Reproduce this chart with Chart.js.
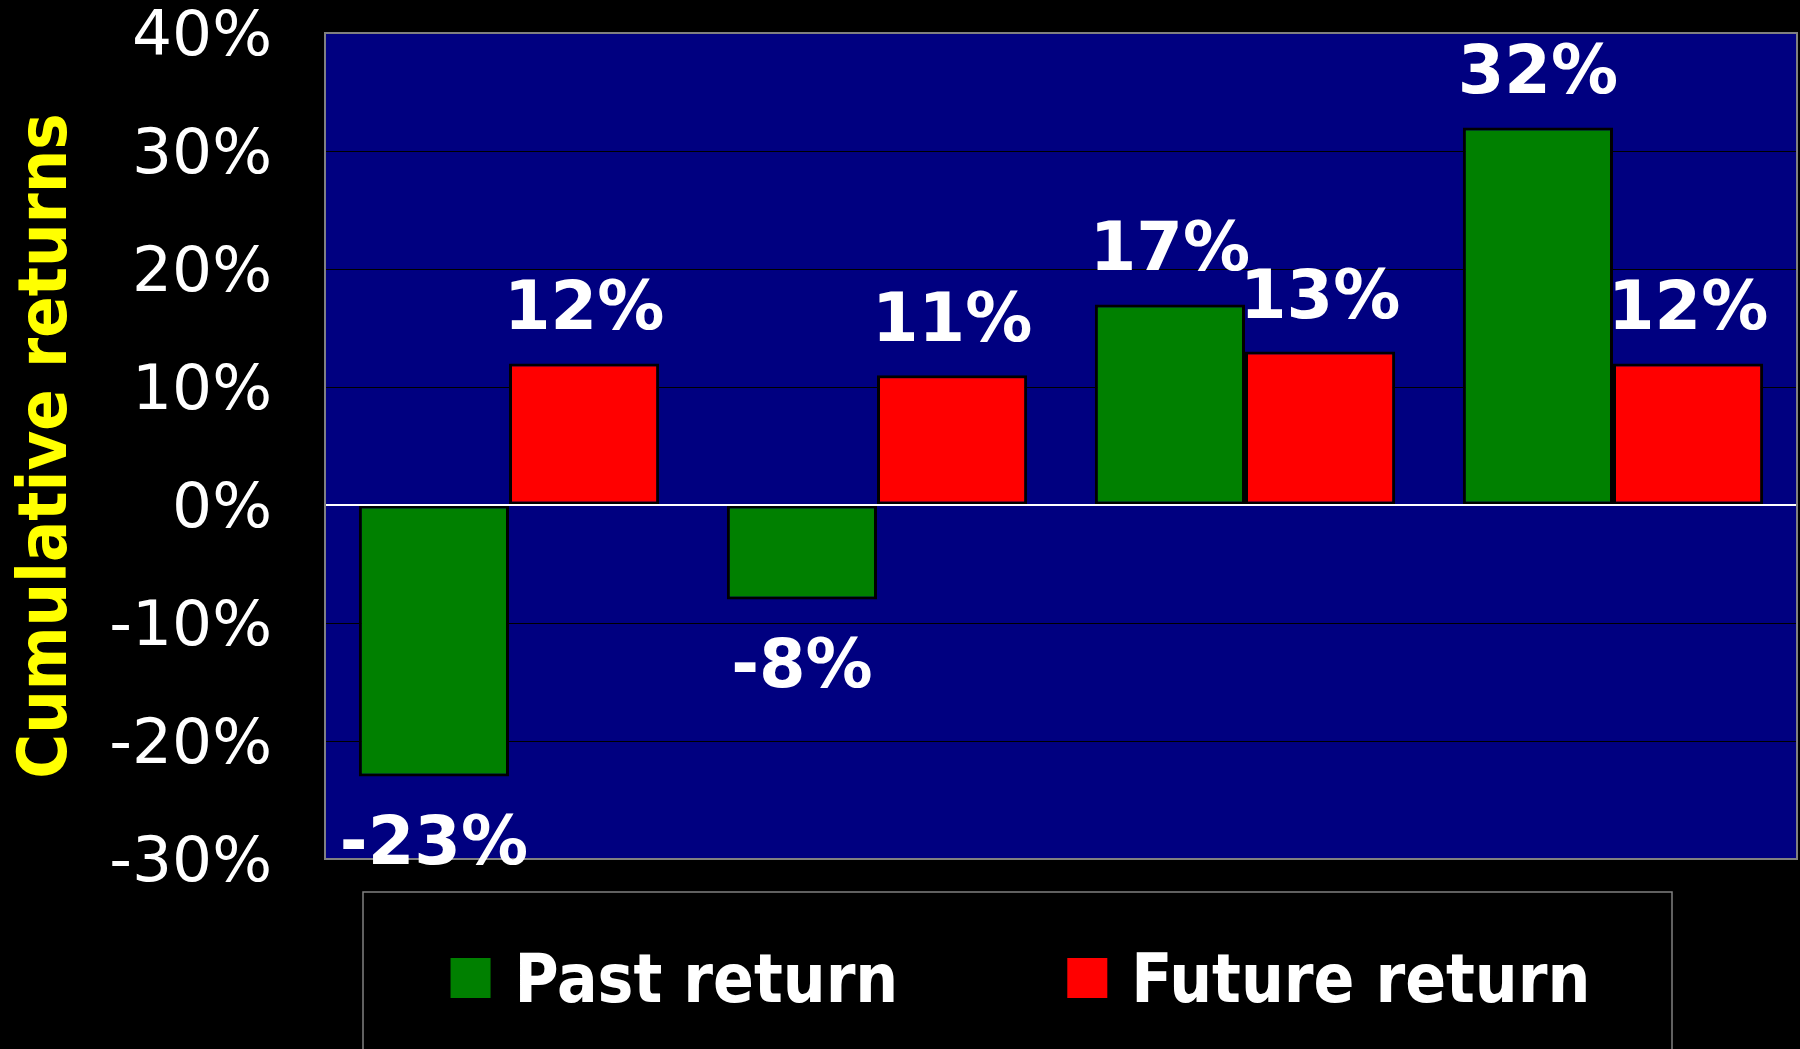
<!DOCTYPE html>
<html>
<head>
<meta charset="utf-8">
<title>Cumulative returns</title>
<script src="https://cdn.jsdelivr.net/npm/chart.js@4.4.1/dist/chart.umd.min.js"></script>
<style>
    html, body { margin: 0; padding: 0; background: #000; }
    #wrap { width: 1800px; height: 1049px; }
</style>
</head>
<body>
<div id="wrap"><canvas id="returnsChart"></canvas></div>
<script>
// Chart data
const categories = ['1', '2', '3', '4'];
const pastReturn = [-23, -8, 17, 32];
const futureReturn = [12, 11, 13, 12];
const seriesNames = ['Past return', 'Future return'];
const yTicks = [-30, -20, -10, 0, 10, 20, 30, 40];

const condensed = "'DejaVu Sans Condensed', 'DejaVu Sans', sans-serif";

// navy plot background, white zero line, grey frame and value labels
const plotFrame = {
    id: 'plotFrame',
    beforeDraw(chart) {
        const { ctx, chartArea: a } = chart;
        ctx.save();
        ctx.fillStyle = '#000';
        ctx.fillRect(0, 0, chart.width, chart.height);
        ctx.fillStyle = '#000080';
        ctx.fillRect(a.left, a.top, a.right - a.left, a.bottom - a.top);
        ctx.restore();
    },
    afterDatasetsDraw(chart) {
        const { ctx, chartArea: a, scales } = chart;
        const y0 = scales.y.getPixelForValue(0);
        ctx.save();
        ctx.strokeStyle = '#fff';
        ctx.lineWidth = 2;
        ctx.beginPath();
        ctx.moveTo(a.left, y0);
        ctx.lineTo(a.right, y0);
        ctx.stroke();

        ctx.strokeStyle = '#808080';
        ctx.lineWidth = 2;
        ctx.strokeRect(a.left, a.top, a.right - a.left, a.bottom - a.top);

        ctx.fillStyle = '#fff';
        ctx.font = "bold 67px 'DejaVu Sans', sans-serif";
        ctx.textAlign = 'center';
        ctx.textBaseline = 'alphabetic';
        chart.data.datasets.forEach((ds, i) => {
            chart.getDatasetMeta(i).data.forEach((bar, j) => {
                const v = ds.data[j];
                const y = v >= 0 ? bar.y - 34 : bar.y + 88;
                ctx.fillText(v + '%', bar.x, y);
            });
        });
        ctx.restore();
    }
};

// boxed legend under the plot
const legendBox = {
    id: 'legendBox',
    afterDraw(chart) {
        const { ctx, chartArea: a } = chart;
        const top = a.bottom + 33;
        const left = a.left + 38;
        const right = a.right - 125;
        ctx.save();
        ctx.strokeStyle = '#808080';
        ctx.lineWidth = 1.5;
        ctx.strokeRect(left, top, right - left, chart.height - top + 10);

        ctx.font = 'bold 67px ' + condensed;
        ctx.textBaseline = 'alphabetic';
        ctx.textAlign = 'left';
        const box = 40, gap = 24, spacing = 169;
        const items = chart.data.datasets.map(ds => ({
            label: ds.label,
            color: ds.backgroundColor,
            w: box + gap + ctx.measureText(ds.label).width
        }));
        const total = items.reduce((s, it) => s + it.w, 0) + spacing * (items.length - 1);
        let x = (left + right) / 2 + 3 - total / 2;
        items.forEach(it => {
            ctx.fillStyle = it.color;
            ctx.fillRect(x, top + 66, box, box);
            ctx.fillStyle = '#fff';
            ctx.fillText(it.label, x + box + gap, top + 110);
            x += it.w + spacing;
        });
        ctx.restore();
    }
};

const ctx = document.getElementById('returnsChart');
new Chart(ctx, {
    type: 'bar',
    data: {
        labels: categories,
        datasets: [{
            label: seriesNames[0],
            data: pastReturn,
            backgroundColor: '#008000',
            borderColor: '#000',
            borderWidth: 3,
            borderSkipped: false
        }, {
            label: seriesNames[1],
            data: futureReturn,
            backgroundColor: '#FF0000',
            borderColor: '#000',
            borderWidth: 3,
            borderSkipped: false
        }]
    },
    options: {
        responsive: true,
        maintainAspectRatio: false,
        animation: false,
        datasets: {
            bar: {
                categoryPercentage: 0.816,
                barPercentage: 1
            }
        },
        layout: {
            padding: { left: 4, top: 33, right: 3, bottom: 190 }
        },
        plugins: {
            legend: { display: false },
            tooltip: { enabled: false }
        },
        scales: {
            x: {
                display: false
            },
            y: {
                min: yTicks[0],
                max: yTicks[yTicks.length - 1],
                afterBuildTicks: axis => {
                    axis.ticks = yTicks.map(v => ({ value: v }));
                },
                // fixed axis width, no extra overhang padding
                afterFit: scale => {
                    scale.width = 321;
                    scale.paddingTop = 0;
                    scale.paddingBottom = 0;
                },
                border: { display: false },
                grid: {
                    color: '#000',
                    lineWidth: 1,
                    drawTicks: false
                },
                ticks: {
                    color: '#fff',
                    padding: 53,
                    labelOffset: 6,
                    font: { family: "'DejaVu Sans', sans-serif", size: 63, lineHeight: 1 },
                    callback: function(value) {
                        return value + '%';
                    }
                },
                title: {
                    display: true,
                    text: 'Cumulative returns',
                    color: '#FFFF00',
                    font: { family: condensed, size: 68, weight: 'bold', lineHeight: 1 },
                    padding: { top: 10, bottom: 27 }
                }
            }
        }
    },
    plugins: [plotFrame, legendBox]
});
</script>
</body>
</html>
